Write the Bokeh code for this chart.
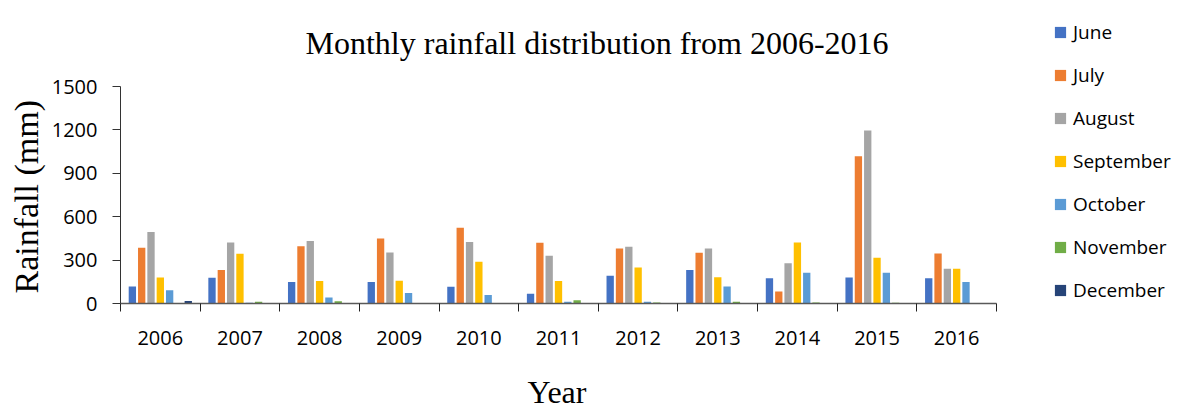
from bokeh.plotting import figure
from bokeh.models import ColumnDataSource, FixedTicker, Label, Legend, LegendItem, Range1d, Title
from bokeh.embed import file_html
from bokeh.resources import INLINE

# Monthly rainfall (mm), one value per year
years = ["2006", "2007", "2008", "2009", "2010", "2011", "2012", "2013", "2014", "2015", "2016"]
june = [118, 178, 148, 148, 115, 67, 192, 231, 175, 180, 175]
july = [385, 231, 395, 450, 524, 420, 381, 351, 83, 1018, 346]
august = [494, 422, 432, 353, 425, 330, 392, 381, 279, 1196, 240]
september = [180, 344, 155, 157, 288, 155, 249, 182, 422, 316, 240]
october = [92, 5, 42, 72, 58, 12, 12, 118, 212, 212, 148]
november = [0, 12, 16, 0, 0, 23, 7, 12, 7, 5, 2]
december = [18, 0, 0, 0, 0, 0, 0, 0, 0, 0, 0]

months = ["June", "July", "August", "September", "October", "November", "December"]
series = [june, july, august, september, october, november, december]
colors = ["#4472C4", "#ED7D31", "#A5A5A5", "#FFC000", "#5B9BD5", "#70AD47", "#264478"]
y_ticks = [0, 300, 600, 900, 1200, 1500]

SANS = "Open Sans"
SERIF = "Liberation Serif"

W, H = 1182, 409
LEFT, AXIS_END, AXIS_TOP, BOTTOM = 120, 996, 86, 303
n = len(years)
y_max = y_ticks[-1]
# the plotting area reaches the top and right edges so the title and legend
# can sit inside it; both axes are bounded to the data extent
x_end = n * (W - LEFT) / (AXIS_END - LEFT)
y_end = y_max * BOTTOM / (BOTTOM - AXIS_TOP)


def px_to_x(px):
    return (px - LEFT) / (AXIS_END - LEFT) * n


def px_to_y(py):
    return (BOTTOM - py) / (BOTTOM - AXIS_TOP) * y_max


p = figure(width=W, height=H, x_range=Range1d(0, x_end), y_range=Range1d(0, y_end),
           output_backend="svg", toolbar_location=None, title=None,
           min_border_left=LEFT, min_border_right=0, min_border_top=0,
           min_border_bottom=H - BOTTOM)
p.outline_line_color = None
p.grid.grid_line_color = None
p.background_fill_color = "white"
p.border_fill_color = "white"

slot = 0.117
bar_w = 0.092
items = []
for j, (name, vals, col) in enumerate(zip(months, series, colors)):
    xs = [i + 0.5 + (j - 3) * slot for i in range(n)]
    src = ColumnDataSource(dict(x=xs, top=vals))
    r = p.vbar(x="x", top="top", width=bar_w, bottom=0, source=src,
               fill_color=col, line_color=None)
    items.append(LegendItem(label=name, renderers=[r]))

# x axis: labels centred on each year, tick marks between years
xa = p.xaxis[0]
xa.bounds = (0, n)
xa.ticker = FixedTicker(ticks=[i + 0.5 for i in range(n)], minor_ticks=list(range(n + 1)))
xa.major_label_overrides = {i + 0.5: y for i, y in enumerate(years)}
xa.major_tick_out = 0
xa.major_tick_in = 0
xa.minor_tick_out = 8
xa.minor_tick_in = 0
xa.minor_tick_line_color = "#222222"
xa.axis_line_color = "#595959"
xa.axis_line_width = 1.5
xa.major_label_text_font = SANS
xa.major_label_text_font_size = "20px"
xa.major_label_text_color = "black"
xa.major_label_standoff = 19

ya = p.yaxis[0]
ya.bounds = (0, y_max)
ya.ticker = FixedTicker(ticks=y_ticks)
ya.minor_tick_line_color = None
ya.major_tick_out = 8
ya.major_tick_in = 0
ya.major_tick_line_color = "#333333"
ya.axis_line_color = "#333333"
ya.major_label_text_font = SANS
ya.major_label_text_font_size = "20px"
ya.major_label_text_color = "black"
ya.major_label_standoff = 15

# axis titles
p.add_layout(Title(text="Rainfall (mm)", align="left", offset=10, vertical_align="bottom",
                   standoff=8, text_font=SERIF, text_font_size="34px",
                   text_font_style="normal", text_color="black"), "left")
p.add_layout(Title(text=" ", text_font_size="10px", standoff=11), "below")
p.add_layout(Title(text="Year", align="left", offset=527 - LEFT, vertical_align="bottom",
                   standoff=0, text_font=SERIF, text_font_size="32px",
                   text_font_style="normal", text_color="black"), "below")

# chart title
p.add_layout(Label(x=px_to_x(305), y=px_to_y(42.7),
                   text="Monthly rainfall distribution from 2006-2016",
                   text_align="left", text_baseline="alphabetic",
                   text_font=SERIF, text_font_size="32px", text_color="black"))

legend = Legend(items=items, location=(1053 - LEFT, 0), orientation="vertical",
                label_text_font=SANS, label_text_font_size="19px", label_text_color="black",
                glyph_width=14, glyph_height=14, label_height=27, label_standoff=6,
                spacing=16, padding=0, margin=0, border_line_color=None,
                background_fill_alpha=0)
p.add_layout(legend, "center")

open("out.html", "w").write(file_html(p, INLINE))
